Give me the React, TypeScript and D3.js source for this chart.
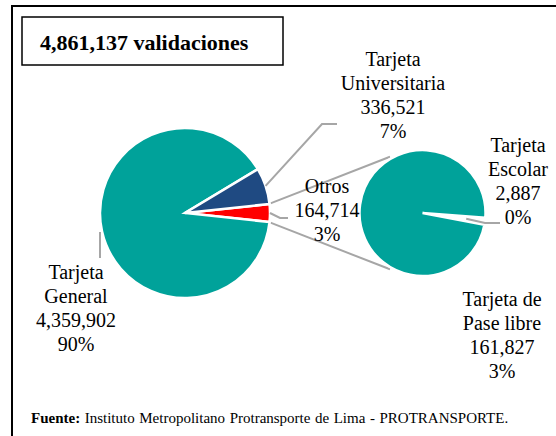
import React from "react";
import * as d3 from "d3";

// datos del gráfico (validaciones por tipo de tarjeta)
const titleText = "4,861,137 validaciones";
const mainNames = [["Otros"], ["Tarjeta", "General"], ["Tarjeta", "Universitaria"]];
const mainValues = [164714, 4359902, 336521];
const mainColors = ["#FF0000", "#00A29A", "#1F4A82"];
const subNames = [["Tarjeta", "Escolar"], ["Tarjeta de", "Pase libre"]];
const subValues = [2887, 161827];
const subColors = ["#FFFFFF", "#00A29A"];
const sourceBold = "Fuente:";
const sourceText = " Instituto Metropolitano Protransporte de Lima - PROTRANSPORTE.";

const W = 556;
const H = 436;
const pie1 = { cx: 185, cy: 213, r: 85 };
const pie2 = { cx: 422.5, cy: 213, r: 63 };
const FONT = "Liberation Serif, DejaVu Serif, serif";
const GREY = "#A6A6A6";

// posiciones de las etiquetas (centro x, primera línea base)
const mainLabelPos = [
    { x: 327, y: 193 },
    { x: 76, y: 279 },
    { x: 393, y: 66 },
];
const subLabelPos = [
    { x: 518, y: 152 },
    { x: 502, y: 306 },
];

const pt = (p, a, r) => [p.cx + r * Math.sin(a), p.cy - r * Math.cos(a)];

function Label({ x, y, lines }) {
    return (
        <text x={x} y={y} textAnchor="middle" style={{ fontFamily: FONT }} fontSize="20px" fill="#000">
            {lines.map((l, i) => (
                <tspan key={i} x={x} dy={i === 0 ? 0 : 24}>{l}</tspan>
            ))}
        </text>
    );
}

export default function App() {
    const total = d3.sum(mainValues);
    const fmt = d3.format(",");
    const pct = (v) => Math.round((v / total) * 100) + "%";

    const otrosAngle = (2 * Math.PI * mainValues[0]) / total;
    const start1 = Math.PI / 2 - otrosAngle / 2;
    const arcsMain = d3.pie<number>().sort(null).startAngle(start1).endAngle(start1 + 2 * Math.PI)(mainValues);
    const arc1 = d3.arc().innerRadius(0).outerRadius(pie1.r);

    const subTotal = d3.sum(subValues);
    const escAngle = (2 * Math.PI * subValues[0]) / subTotal;
    const start2 = (97.5 * Math.PI) / 180 - escAngle / 2;
    const arcsSub = d3.pie<number>().sort(null).startAngle(start2).endAngle(start2 + 2 * Math.PI)(subValues);
    const arc2 = d3.arc().innerRadius(0).outerRadius(pie2.r);

    const line = d3.line();

    // conectores entre los dos pies
    const topA = pt(pie1, arcsMain[0].startAngle, pie1.r - 1);
    const topB = pt(pie2, (-30 * Math.PI) / 180, pie2.r + 2);
    const botA = pt(pie1, arcsMain[0].endAngle, pie1.r - 1);
    const botB = pt(pie2, (210 * Math.PI) / 180, pie2.r + 2);

    const mid = (d) => (d.startAngle + d.endAngle) / 2;
    const univStart = pt(pie1, mid(arcsMain[2]), pie1.r);
    const otrosStart = pt(pie1, mid(arcsMain[0]), pie1.r);
    const escStart = pt(pie2, mid(arcsSub[0]), pie2.r * 0.7);

    const leaders = [
        [univStart, [322, 124], [337, 124]],
        [otrosStart, [280, 218], [288, 218]],
        [[100, 232], [100, 258]],
        [escStart, [485, 223], [500, 223]],
    ];

    return (
        <svg width={W} height={H} style={{ position: "absolute", left: 0, top: 0, background: "#fff", fontFamily: FONT }}>
            <rect x={12} y={6} width={600} height={500} fill="none" stroke="#000" strokeWidth={2} />

            <rect x={22} y={17} width={261} height={48} fill="none" stroke="#000" strokeWidth={1.5} />
            <text x={40} y={50} style={{ fontFamily: FONT }} fontWeight="bold" fontSize="22px" fill="#000">{titleText}</text>

            <path d={line([topA, topB])} stroke={GREY} strokeWidth={2} fill="none" />
            <path d={line([botA, botB])} stroke={GREY} strokeWidth={2} fill="none" />

            <g transform={`translate(${pie1.cx},${pie1.cy})`}>
                {arcsMain.map((d, i) => (
                    <path key={i} d={arc1(d)} fill={mainColors[i]} stroke="#fff" strokeWidth={2.5} />
                ))}
            </g>
            <g transform={`translate(${pie2.cx},${pie2.cy})`}>
                {arcsSub.map((d, i) => (
                    <path key={i} d={arc2(d)} fill={subColors[i]} stroke="#fff" strokeWidth={2.5} />
                ))}
            </g>

            {leaders.map((l, i) => (
                <path key={i} d={line(l)} stroke={GREY} strokeWidth={2} fill="none" />
            ))}

            {mainValues.map((v, i) => (
                <Label key={i} x={mainLabelPos[i].x} y={mainLabelPos[i].y}
                    lines={[...mainNames[i], fmt(v), pct(v)]} />
            ))}
            {subValues.map((v, i) => (
                <Label key={i} x={subLabelPos[i].x} y={subLabelPos[i].y}
                    lines={[...subNames[i], fmt(v), pct(v)]} />
            ))}

            <text x={31} y={423} style={{ fontFamily: FONT, wordSpacing: "0.8px" }} fontSize="15px" fill="#000">
                <tspan fontWeight="bold">{sourceBold}</tspan>
                <tspan>{sourceText}</tspan>
            </text>
        </svg>
    );
}
